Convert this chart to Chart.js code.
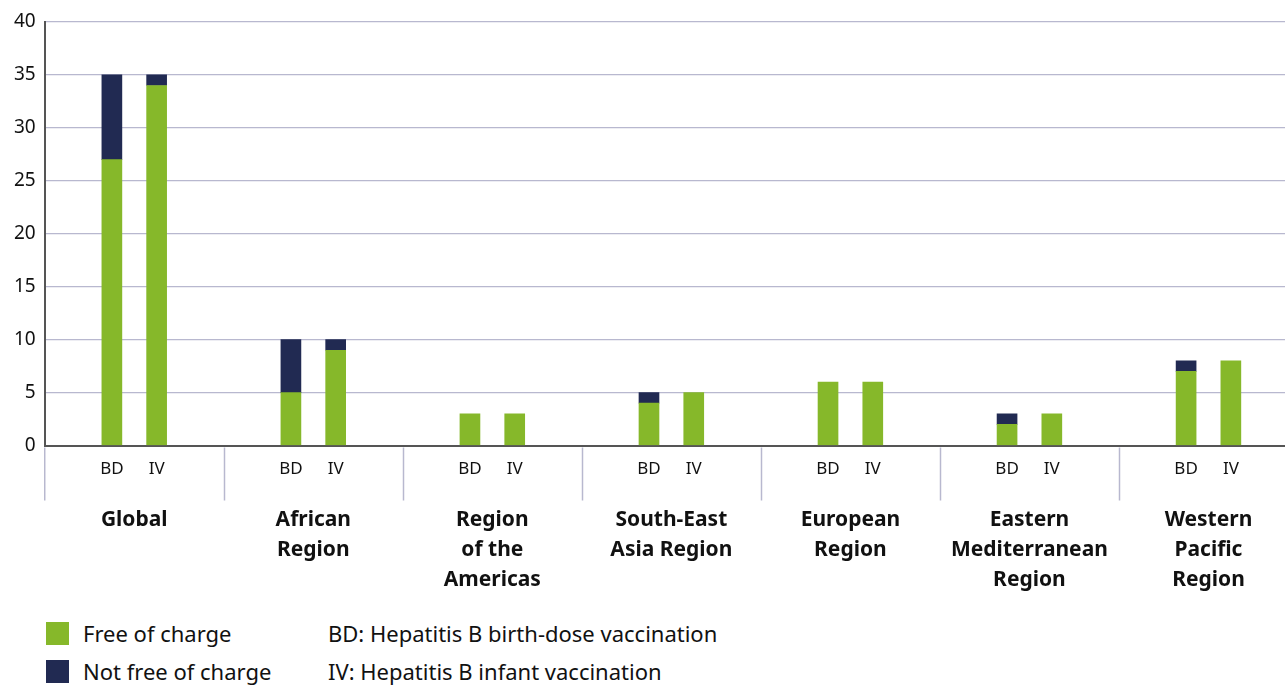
<!DOCTYPE html>
<html>
<head>
<meta charset="utf-8">
<script src="https://cdn.jsdelivr.net/npm/chart.js@4"></script>
<style>
  body { margin: 0; background: #fff; font-family: "Noto Sans", sans-serif; overflow: hidden; }
  #wrap { position: relative; width: 1285px; height: 608px; overflow: hidden; }
  .legend { position: absolute; left: 46px; top: 614px; font-size: 22px; color: #111; }
  .row { display: flex; align-items: center; height: 38px; }
  .sw { width: 23px; height: 23px; margin-right: 14px; }
  .lab { width: 245px; }
</style>
</head>
<body>
<div id="wrap"><canvas id="chart" width="1298" height="608"></canvas></div>
<div class="legend">
  <div class="row"><div class="sw" style="background:#86b82a"></div><div class="lab">Free of charge</div><div>BD: Hepatitis B birth-dose vaccination</div></div>
  <div class="row"><div class="sw" style="background:#212a52"></div><div class="lab">Not free of charge</div><div>IV: Hepatitis B infant vaccination</div></div>
</div>
<script>
'use strict'

const groups = [['Global'], ['African', 'Region'], ['Region', 'of the', 'Americas'], ['South-East', 'Asia Region'],
  ['European', 'Region'], ['Eastern', 'Mediterranean', 'Region'], ['Western', 'Pacific', 'Region']];
const doses = ['BD', 'IV'];
// per group: [BD, IV]
const freeOfCharge = [[27, 34], [5, 9], [3, 3], [4, 5], [6, 6], [2, 3], [7, 8]];
const notFree = [[8, 1], [5, 1], [0, 0], [1, 0], [0, 0], [1, 0], [1, 0]];

// each group gets 4 slots: gap, BD, IV, gap
const slots = [];
const freeData = [];
const notFreeData = [];
groups.forEach((g, i) => {
  slots.push('', doses[0], doses[1], '');
  freeData.push(null, freeOfCharge[i][0], freeOfCharge[i][1], null);
  notFreeData.push(null, notFree[i][0] || null, notFree[i][1] || null, null);
});

const separators = {
  id: 'separators',
  afterDraw(chart) {
    const x = chart.scales.x;
    const ctx = chart.ctx;
    const half = (x.getPixelForValue(1) - x.getPixelForValue(0)) / 2;
    const bottom = chart.chartArea.bottom;
    ctx.save();
    ctx.strokeStyle = '#b8b8cf';
    ctx.lineWidth = 1.5;
    for (let k = 0; k < groups.length; k++) {
      const px = k === 0 ? x.left : Math.round(x.getPixelForValue(k * 4) - half) + 0.5;
      ctx.beginPath();
      ctx.moveTo(px, bottom + 2);
      ctx.lineTo(px, bottom + 55);
      ctx.stroke();
    }
    ctx.restore();
  }
};

new Chart(document.querySelector('#chart'), {
  type: 'bar',
  data: {
    labels: slots,
    datasets: [
      { label: 'Free of charge', data: freeData, backgroundColor: '#86b82a', barThickness: 20 },
      { label: 'Not free of charge', data: notFreeData, backgroundColor: '#212a52', barThickness: 20 }
    ]
  },
  options: {
    responsive: false,
    animation: false,
    layout: { padding: { left: 5, top: 22, right: 0, bottom: 0 } },
    plugins: { legend: { display: false }, tooltip: { enabled: false } },
    scales: {
      x: {
        stacked: true,
        grid: { display: false, drawTicks: false },
        border: { color: '#555', width: 2 },
        ticks: { autoSkip: false, maxRotation: 0, padding: 13, color: '#111', font: { family: 'Noto Sans', size: 17 } }
      },
      x2: {
        type: 'category',
        labels: groups,
        position: 'bottom',
        offset: true,
        grid: { display: false, drawTicks: false },
        border: { display: false },
        ticks: { padding: 13, color: '#111', maxRotation: 0, autoSkip: false,
          font: { family: 'Noto Sans', size: 21, weight: 'bold', lineHeight: 1.43 } }
      },
      y: {
        stacked: true,
        min: 0, max: 40,
        ticks: { stepSize: 5, padding: 9, color: '#111', font: { family: 'Noto Sans', size: 19 } },
        grid: { color: '#b8b8cf', lineWidth: 1.3, drawTicks: false },
        border: { color: '#555', width: 2 }
      }
    }
  },
  plugins: [separators]
});
</script>
</body>
</html>
